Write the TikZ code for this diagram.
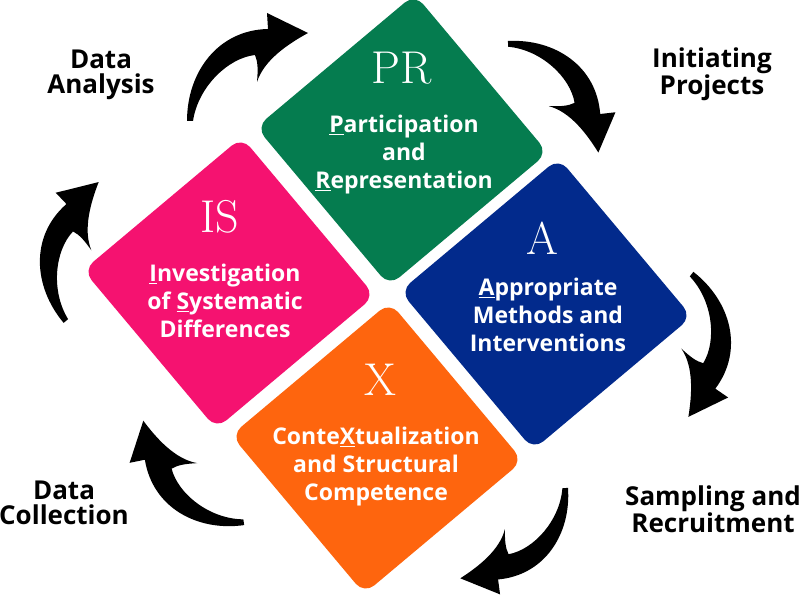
\documentclass[tikz,border=0pt]{standalone}
\usepackage{fontspec}
\newfontfamily\opensans{Open Sans}
\usetikzlibrary{positioning,calc}

\definecolor{prgreen}{HTML}{057C4F}
\definecolor{ispink}{HTML}{F51270}
\definecolor{ablue}{HTML}{022A8C}
\definecolor{xorange}{HTML}{FE650E}

\tikzset{
    tile/.style={rectangle, minimum size=207pt, inner sep=0pt, rotate=40, rounded corners=13pt},
    abbrev/.style={text=white, inner sep=0pt, font=\fontsize{46}{46}\selectfont},
    boxtext/.style={text=white, inner sep=0pt, align=center, font=\opensans\bfseries\fontsize{23}{28}\selectfont},
    steplabel/.style={text=black, inner sep=0pt, align=center, font=\opensans\bfseries\fontsize{26}{25}\selectfont},
    bentarrow/.pic={
        \fill[black] (-1,1) .. controls (-1,50) and (30,92) .. (80,93)
            -- (79,109) -- (120,89)
            .. controls (100,78) and (76,62) .. (69,40)
            .. controls (70,52) and (70,60) .. (67,67)
            .. controls (40,64) and (10,35) .. (5,1) -- cycle;
    }
}

\begin{document}
\begin{tikzpicture}[x=1pt, y=1pt]
        \fill[white] (0,0) rectangle (800,605);
        \useasboundingbox (0,0) rectangle (800,605);
        % the four tiles
        \node[tile, fill=prgreen] (pr) at (402,465) {};
        \node[tile, fill=ispink] (is) at (229,322) {};
        \node[tile, fill=ablue] (a) at (546,301) {};
        \node[tile, fill=xorange] (x) at (377,157) {};
        % letters and titles
        \node[abbrev] (pr-abbr) at ($(pr)+(0,72)$) {PR};
        \node[boxtext] (pr-text) at ($(pr)+(2,-15)$) {\underline{P}articipation\\and\\\underline{R}epresentation};
        \node[abbrev] (is-abbr) at ($(is)+(-9,66)$) {IS};
        \node[boxtext] (is-text) at ($(is)+(-4,-18)$) {\underline{I}nvestigation\\of \underline{S}ystematic\\Differences};
        \node[abbrev] (a-abbr) at ($(a)+(-4,66)$) {A};
        \node[boxtext] (a-text) at ($(a)+(2,-11)$) {\underline{A}ppropriate\\Methods and\\Interventions};
        \node[abbrev] (x-abbr) at ($(x)+(3,68)$) {X};
        \node[boxtext] (x-text) at ($(x)+(-1,-19)$) {Conte\underline{X}tualization\\and Structural\\Competence};
        % stages round the cycle
        \node[steplabel] (analysis) at (101,530) {Data\\Analysis};
        \node[steplabel] (initiating) at (712,531) {Initiating\\Projects};
        \node[steplabel] (sampling) at (713,96) {Sampling and\\Recruitment};
        \node[steplabel] (collection) at (64,102) {Data\\Collection};
        % curved arrows
        \foreach \px/\py/\ang/\sc in {188/483/0/1, 507/563/-87/0.96, 692/333/-128/0.97,
            567/118/-176/0.94, 245/81/98/0.97, 65/282/40/0.97}
        {
            \pic[rotate=\ang, scale=\sc] at (\px,\py) {bentarrow};
        }
\end{tikzpicture}
\end{document}
